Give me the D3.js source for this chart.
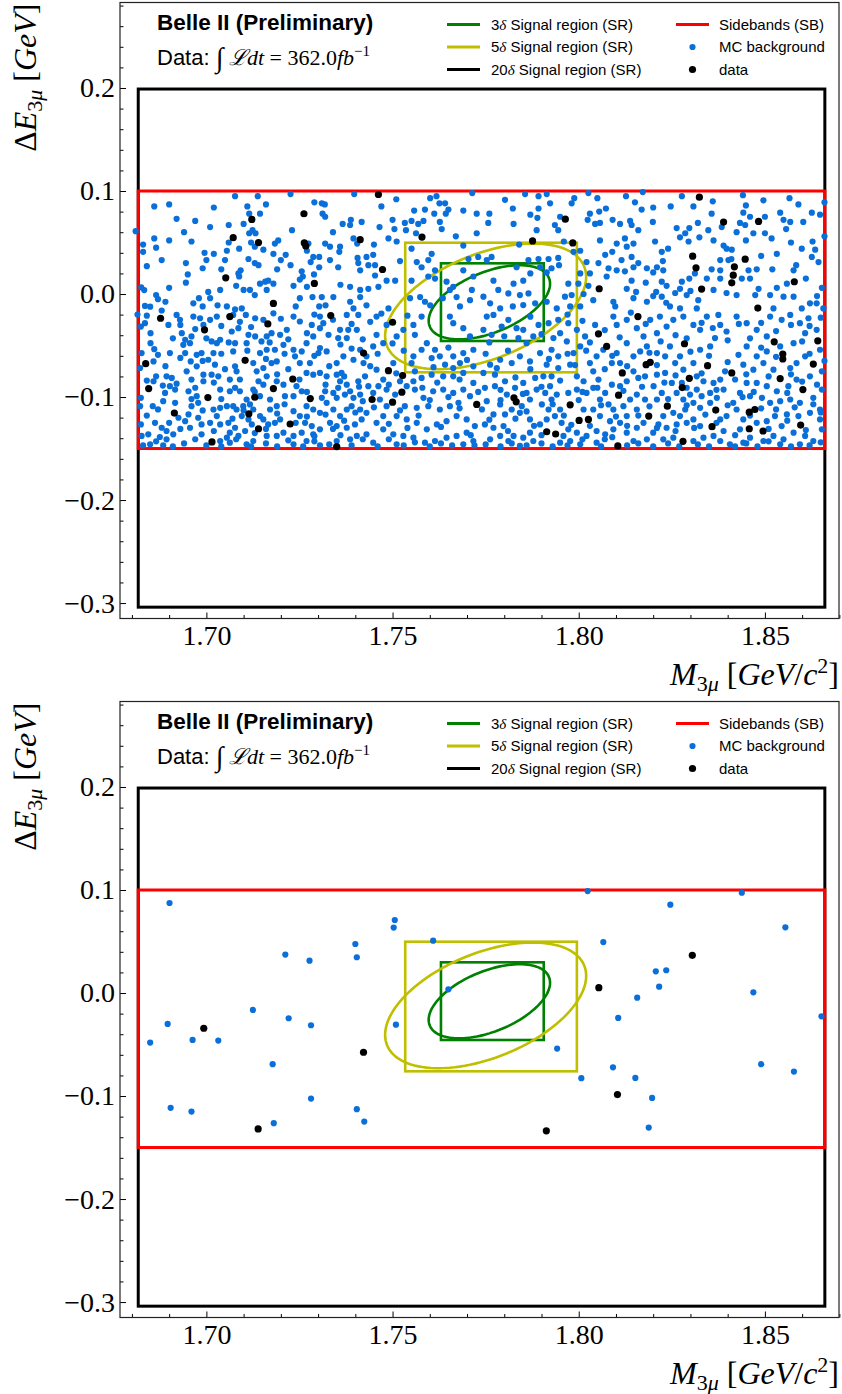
<!DOCTYPE html>
<html><head><meta charset="utf-8">
<script src="https://cdn.jsdelivr.net/npm/d3@7"></script>
<style>body{margin:0;background:#fff}svg{display:block}</style>
</head><body>
<svg id="fig" width="842" height="1394"></svg>
<script>
// ---------------- data (mass and Delta E in MeV for the point lists) ----------------
const xTicks = [1.70, 1.75, 1.80, 1.85];
const yTicks = [-0.3, -0.2, -0.1, 0.0, 0.1, 0.2];
const xLim = [1.6768, 1.8699];
const yLim = [-0.315, 0.283];
// boxes: [mMin, mMax, dEMin, dEMax] in GeV
const box3 = [1.7630, 1.7906, -0.0456, 0.0298];
const box5 = [1.7534, 1.7995, -0.0760, 0.0498];
const box20 = [1.6817, 1.8661, -0.3040, 0.1990];
const boxSB = [1.6817, 1.8661, -0.1500, 0.1000];
// ellipses: [centre m, centre dE, half-extent m, half-extent dE, correlation]
const ell3 = [1.7760, -0.0080, 0.0163, 0.0360, 0.50];
const ell5 = [1.7750, -0.0120, 0.0270, 0.0610, 0.47];
const legendLeft = ["3δ Signal region (SR)", "5δ Signal region (SR)", "20δ Signal region (SR)"];
const legendRight = ["Sidebands (SB)", "MC background", "data"];

const mcTop = [
[1681,61],[1683,48],[1683,41],[1686,54],[1686.5,45],[1686,85],[1690,87],[1692,73],[1694,60],[1696,51],[1699.5,40],[1701,65],[1702,39],[1699,25],[1700,33],[1694.5,30],[1695,19],[1694.5,11],[1690,6],[1686.5,-1],[1687,-5],[1682.5,6.5],[1683.3,3.8],[1683.5,-11.6],[1684.9,-12.3],[1689,-7.5],[1696.5,-9],[1698,-4],[1701,-4],[1700.5,2],[1703.7,4],[1703,-11],[1705.5,-12],[1707.7,-15],[1709.5,-14],[1705.5,42],[1705,33],[1706,50],[1706,67],[1707.7,95],[1711,85],[1711.5,78],[1710,68],[1711.5,59],[1712.4,62],[1713.2,59],[1712,50],[1713,46],[1711.3,34],[1713,30],[1714,28],[1715.3,43],[1714.4,78],[1713.8,95],[1708.8,44],[1709.2,23],[1708.6,20],[1708.8,17],[1710,4],[1711.7,4],[1713,-1],[1714.4,10],[1715.8,12],[1716.6,13],[1718,10],[1716.2,4],[1718.4,49],[1719.3,52],[1718,39],[1720,33],[1721.3,38],[1722.6,28],[1723.4,8],[1725.1,14],[1725.9,17],[1725.6,22],[1727,42],[1727.4,49],[1728,31],[1728.7,36],[1730.3,36],[1731.9,49],[1731,88],[1729,89],[1731.8,87],[1731.2,78],[1731.9,75],[1733.2,46],[1733.2,33],[1730.3,26],[1728.9,19],[1727,7],[1725.1,-4],[1728.5,-3],[1731,-3],[1730.3,-12],[1732,-11],[1734.1,-3],[1722.6,97],[1739.7,97],[1735.9,46],[1735.7,41],[1735.4,26],[1736.6,68],[1738.6,67],[1738.8,72],[1741.7,70],[1739.5,54],[1740.5,49],[1740.6,35],[1740.8,30],[1741.3,23],[1743.5,28],[1743,36],[1744.8,38],[1745.3,28],[1745.3,18],[1746.5,65],[1748.9,54],[1750,72],[1750.5,63],[1751.1,51],[1753.3,69],[1753.6,62],[1755.1,71],[1755.8,81],[1756.3,59],[1756.9,68],[1758.3,71],[1758.7,82],[1760.1,93],[1761.2,78],[1761.8,95],[1762.6,88],[1762.7,70],[1763.2,63],[1764.1,88],[1764.3,78],[1765,82],[1769,81],[1771.4,98],[1772.6,59],[1772.6,78],[1755.1,44],[1756.5,31],[1757.8,26],[1759.6,33],[1760.5,39],[1761.4,23],[1759.6,17],[1761.4,15],[1764.5,12],[1765.4,4],[1766.3,7],[1755.1,13],[1754.7,-4],[1757.4,-3],[1758.7,-7.5],[1760.1,-11],[1763.5,-4],[1767.2,-3],[1768.1,-12],[1770.4,34],[1771.7,17],[1771.3,4],[1770.8,-6],[1773,36],[1738.6,7],[1741.3,4],[1743.5,5],[1746.2,7],[1748.4,13],[1750.7,13],[1741.3,-3],[1738.6,-7.5],[1743,-11],[1739.5,-14],[1748.9,-14],
[1780.2,91.4],[1782.3,83],[1785.6,97],[1789.2,95],[1791.4,97],[1792.3,88],[1789.2,83],[1788.9,74],[1782.5,68],[1775.7,69],[1788.7,62],[1793.6,67],[1794.5,62],[1795,75],[1798.1,88],[1798.8,93],[1802.6,98],[1803,78],[1805.5,80],[1807.3,83],[1802.4,72],[1804.4,68],[1805.7,69],[1809.1,72],[1811.1,68],[1812.7,95],[1815.1,89],[1817.2,99],[1816.9,82],[1813.8,71],[1814.2,67],[1819.9,70],[1820,84],[1824.7,85],[1827.7,95],[1830.8,85],[1835.7,78],[1834.8,62],[1829.7,64],[1826.3,64],[1828.6,59],[1827.2,55],[1829.5,51],[1832.4,55],[1836.2,52],[1838.9,47],[1839.7,44],[1841.1,43],[1838.4,65],[1842.4,60],[1843.3,69],[1844.7,67],[1844.2,79],[1844.9,86],[1844.1,96],[1849.6,91],[1846,75],[1850,75],[1850,59],[1846.9,59],[1844.9,52],[1851.8,54],[1853.2,39],[1854.1,79],[1855,72],[1856.8,70],[1855.7,63],[1856.6,93],[1859,87],[1860.3,70],[1862.6,79],[1864.8,77],[1862.8,51],[1863.5,43],[1859.9,44],[1862.6,36],[1864.4,31],[1858.4,28],[1857.7,23],[1855.9,10],[1853.2,6],[1855,-2.6],[1857.7,-2.6],[1851.4,-1],[1865.3,6],[1859.9,-14],[1862.1,-9],[1863.9,-9],[1865.7,-14],[1852.3,-14],[1847.4,-1],[1848.3,5],[1842.4,-1],[1843.8,15],[1846,15],[1845.6,23],[1847.8,24],[1838,33],[1840.2,33],[1838,23],[1835.7,24],[1836.2,4],[1839.7,1],[1838,15],[1834.4,15],[1831.2,20],[1829.7,15],[1827.7,12],[1827.2,5],[1825.9,1],[1829,-1],[1832.1,-6],[1831.7,-14],[1823.6,8],[1822.3,12],[1820.8,2],[1822.3,-2.6],[1820,-2],[1818.3,-7.5],[1823.5,-8.5],[1824.5,-12],[1827.2,-14],[1822.7,23],[1821,26],[1820,21],[1822.3,41],[1822.6,32],[1818.3,25],[1820.5,51],[1814.7,49],[1812.4,54],[1812.9,46],[1810.2,49],[1811.5,33],[1814.2,36],[1814.7,26],[1816,30],[1812.4,22],[1810.2,23],[1808,25],[1807.1,38],[1805.7,52],[1807.5,17],[1812.9,5],[1814.2,13],[1815.4,2],[1814.7,-4],[1809.3,-7.5],[1809.8,-12],[1803.9,-6],[1801.3,0],[1802.6,8],[1799.9,10],[1797.2,10],[1798.1,-1],[1796.3,-2.6],[1797.7,-12],[1800.4,-12],[1794.1,-14],[1791.4,-7.5],[1788.3,-9],[1786.5,0.6],[1784.2,-1],[1781.1,0.6],[1782.5,10],[1785.1,13],[1787,20],[1791.4,21],[1792.7,25],[1789.6,26],[1789.2,34],[1791.9,34],[1794.5,35],[1794.7,28],[1786.5,33],[1783.3,26],[1777.1,13],[1778.4,4],[1775.3,33],[1776.6,36],[1774.4,-2.6],[1776.2,-9],[1778.9,-14],[1782.3,-12],[1785.1,-10.7],[1798.6,41],[1800.4,42],[1802.1,31],[1800.4,20],[1803,20],[1805.3,30],
[1682.4,-31.6],[1683.5,-28.3],[1682.6,-57.3],[1682.2,-71.8],[1682.4,-100.8],[1682.2,-108.9],[1682.4,-126.6],[1682.6,-137.8],[1684.4,-136.2],[1685,-47.7],[1686,-53.5],[1685.8,-65.4],[1686.5,-79.9],[1685.8,-84.7],[1685.6,-108.9],[1686.2,-125],[1688,-129.8],[1687.5,-138.8],[1689.3,-141.1],[1688.4,-146.9],[1684.9,-145.9],[1690.2,-57.3],[1689.3,-79.9],[1690.2,-89.5],[1690.7,-81.5],[1688.3,-88.9],[1688.9,-96],[1691.6,-92.8],[1688.4,-104],[1691.6,-105.6],[1692.5,-120.1],[1689.3,-133],[1691.1,-136.2],[1692,-20.3],[1692.9,-25.1],[1689.8,-30],[1693.4,-38],[1694.3,-44.4],[1695.6,-47.7],[1696,-41.2],[1693.8,-49.3],[1694.3,-57.3],[1695.8,-65.4],[1694.7,-75],[1696,-83.1],[1695.2,-94.4],[1697.4,-99.2],[1697.8,-105.6],[1696,-108.9],[1695.2,-116.9],[1694.3,-123.4],[1695.6,-129.8],[1698.7,-136.2],[1698.7,-126.6],[1697.8,-120.1],[1696.5,-21.9],[1698.3,-23.5],[1699.2,-30],[1697.4,-59],[1698.7,-57.3],[1697.4,-70.2],[1699.2,-78.3],[1699.2,-84.7],
[1701,-25.1],[1702.8,-21.9],[1701.4,-46],[1702.8,-47.7],[1703.7,-44.4],[1701.9,-57.3],[1700.5,-63.8],[1702.3,-68.6],[1703.2,-79.9],[1701.4,-78.3],[1703.7,-92.8],[1701.9,-112.1],[1703.7,-110.5],[1705.5,-108.9],[1702.8,-118.5],[1701,-125],[1703.7,-126.6],[1705.9,-125],[1707.7,-129.8],[1706.3,-134.6],[1705.5,-139.5],[1703.7,-142.7],[1706.3,-144.3],[1708.6,-137.8],[1710.4,-133],[1712.2,-126.6],[1711.3,-121.7],[1709.5,-118.5],[1708.1,-112.1],[1707.2,-108.9],[1709.9,-108.9],[1711.7,-107.2],[1710.8,-102.4],[1712.6,-112.1],[1714.4,-118.5],[1715.3,-121.7],[1717.1,-112.1],[1716.6,-126.6],[1718.4,-125],[1719.8,-121.7],[1712.6,-142.7],[1716.2,-137.8],[1718.9,-137.8],[1720.7,-134.6],[1710.8,-145.9],[1706.3,-94.4],[1707.7,-91.1],[1709,-94.4],[1706.3,-83.1],[1708.1,-75],[1707.7,-70.2],[1707.2,-55.7],[1707.7,-47.7],[1706.8,-36.4],[1708.6,-33.2],[1707.2,-20.3],[1710.6,-20.3],[1713.1,-23.5],[1715.3,-25.1],[1718,-18.7],[1711.3,-39.6],[1710.8,-47.7],[1713.1,-41.2],[1714.8,-46],[1716.2,-41.2],[1717.5,-38],[1719.8,-39.6],[1721.6,-34.8],[1720.7,-49.3],[1718.4,-54.1],[1716.2,-54.1],[1714.4,-57.3],[1712.6,-67],[1713.5,-75],[1715.3,-71.8],[1717.5,-67],[1718.9,-65.4],[1716.2,-79.9],[1714,-84.7],[1715.3,-88],[1712.6,-92.8],[1720.7,-88],[1718.9,-84.7],[1721.1,-99.2],[1717.1,-102.4],[1718.9,-108.9],[1714.4,-99.2],
[1723.4,-21.9],[1725.1,-26.7],[1728.3,-30],[1731.4,-28.3],[1730.5,-33.2],[1728.7,-41.2],[1726.9,-47.7],[1725.6,-55.7],[1723.8,-60.5],[1723.4,-54.1],[1725.1,-67],[1727.8,-67],[1730.1,-57.3],[1732.3,-55.7],[1730.5,-52.5],[1732.8,-39.6],[1735.4,-42.8],[1737.7,-42.8],[1735.9,-34.8],[1738.1,-34.8],[1740.4,-34.8],[1740.8,-20.3],[1737.7,-20.3],[1730.5,-21.9],[1726.9,-76.6],[1728.7,-78.3],[1730.5,-76.6],[1732.3,-79.9],[1735,-78.3],[1736.3,-76.6],[1735.9,-84.7],[1737.7,-88],[1735.4,-91.1],[1734.1,-96],[1731.9,-94.4],[1731,-100.8],[1732.3,-105.6],[1735,-100.8],[1737.2,-97.6],[1738.6,-94.4],[1739.5,-100.8],[1741.3,-97.6],[1739,-108.9],[1737.7,-112.1],[1735.9,-118.5],[1734.1,-112.1],[1730.5,-115.3],[1728.7,-112.1],[1726.9,-108.9],[1725.1,-118.5],[1723.4,-113.7],[1726.5,-125],[1728.3,-128.2],[1730.5,-131.4],[1733.2,-125],[1735,-128.2],[1737.7,-129.8],[1739.9,-126.6],[1741.7,-121.7],[1743,-115.3],[1741.3,-112.1],[1740.4,-137.8],[1743,-136.2],[1738.6,-141.1],[1735,-142.7],[1730.5,-146.9],[1726.9,-142.7],[1723.4,-137.8],[1723.4,-145.9],[1725.6,-134.6],[1728.7,-136.2],[1725.6,-94.4],[1723.4,-99.2],[1724.2,-89.5],[1742.6,-79.9],[1743.5,-89.5],[1740.8,-84.7],[1742.2,-67],[1741.3,-54.1],[1743,-60.5],[1739.5,-63.8],[1736.8,-60.5],[1735,-67],
[1745.7,-21.9],[1748.4,-30],[1745.7,-39.6],[1744.8,-50.9],[1747.5,-47.7],[1751.1,-41.2],[1752.9,-34.8],[1755.6,-30],[1757.8,-21.9],[1756,-39.6],[1757.8,-54.1],[1759.2,-47.7],[1761.4,-54.1],[1760.5,-62.2],[1762.7,-60.5],[1755.6,-60.5],[1755.1,-67],[1765.4,-21.9],[1766.3,-28.3],[1769,-33.2],[1770.8,-41.2],[1771.7,-54.1],[1769,-57.3],[1766.3,-60.5],[1764.1,-68.6],[1766.3,-71.8],[1768.1,-67],[1771.7,-70.2],[1769,-76.6],[1766.3,-79.9],[1763.6,-79.9],[1760.5,-78.3],[1757.8,-81.5],[1755.6,-84.7],[1753.8,-89.5],[1756,-92.8],[1758.3,-100.8],[1760.9,-94.4],[1763.6,-92.8],[1766.3,-96],[1769,-92.8],[1771.7,-86.3],[1770.8,-99.2],[1767.7,-105.6],[1765.4,-108.9],[1762.7,-112.1],[1759.6,-108.9],[1756.5,-110.5],[1753.3,-108.9],[1751.1,-118.5],[1753.8,-121.7],[1756.5,-125],[1759.2,-131.4],[1761.9,-126.6],[1764.5,-123.4],[1767.2,-118.5],[1769.9,-121.7],[1772.1,-128.2],[1769.9,-134.6],[1767.2,-137.8],[1764.5,-139.5],[1761.4,-142.7],[1758.7,-144.3],[1755.6,-139.5],[1752.9,-137.8],[1750.2,-136.2],[1747.5,-131.4],[1745.7,-125],[1747.5,-118.5],[1748.4,-108.9],[1746.6,-102.4],[1744.8,-96],[1746.2,-89.5],[1748.4,-92.8],[1750.7,-97.6],[1752,-84.7],[1747.5,-83.1],[1745.7,-73.4],[1750.2,-67],[1769,-145.9],[1771.7,-142.7],[1751.1,-145.9],[1744.8,-144.3],
[1775.3,-21.9],[1777.1,-20.3],[1774.4,-34.8],[1776.6,-39.6],[1779.3,-31.6],[1781.1,-25.1],[1783.3,-33.2],[1785.1,-34.8],[1783.8,-42.8],[1786,-47.7],[1787.8,-41.2],[1789.2,-30],[1791.9,-28.3],[1794.5,-25.1],[1793.2,-42.8],[1795,-38],[1792.7,-54.1],[1794.5,-60.5],[1789.6,-57.3],[1786.9,-65.4],[1784.2,-60.5],[1782,-67],[1778.9,-63.8],[1776.2,-68.6],[1774.4,-76.6],[1777.5,-78.3],[1780.2,-84.7],[1777.5,-89.5],[1774.8,-91.1],[1775.3,-104],[1777.1,-116.9],[1774.8,-126.6],[1777.1,-129.8],[1779.8,-128.2],[1778.9,-137.8],[1776.2,-141.1],[1781.1,-142.7],[1782.5,-137.8],[1785.1,-139.5],[1786.9,-134.6],[1787.8,-142.7],[1784.2,-147.5],[1795,-144.3],[1795.9,-137.8],[1789.6,-126.6],[1786.9,-121.7],[1784.2,-115.3],[1782,-112.1],[1784.7,-108.9],[1786.9,-102.4],[1786,-96],[1788.7,-92.8],[1791,-96],[1788.3,-81.5],[1790.5,-79.9],[1792.7,-79.9],[1792.3,-89.5],[1794.1,-97.6],[1792.7,-102.4],[1790.1,-107.2],[1791.9,-112.1],[1795,-112.1],[1793.6,-118.5],[1791.4,-121.7],[1795.4,-125],[1785.1,-86.3],[1782.9,-91.1],[1780.7,-97.6],[1778.9,-107.2],[1780.2,-116.9],[1794.5,-71.8],[1791.4,-68.6],
[1797.2,-28.3],[1799.5,-34.8],[1801.7,-41.2],[1800.4,-50.9],[1798.6,-57.3],[1796.8,-46],[1797.7,-68.6],[1799.5,-79.9],[1801.3,-84.7],[1799.5,-92.8],[1797.2,-96],[1802.1,-96],[1803.9,-91.1],[1805.3,-83.1],[1803.9,-75],[1803,-67],[1804.8,-60.5],[1806.6,-54.1],[1804.4,-30],[1809.3,-21.9],[1810.2,-30],[1812.9,-25.1],[1815.6,-33.2],[1817.4,-41.2],[1812.9,-47.7],[1810.2,-57.3],[1808.9,-67],[1811.1,-67],[1814.7,-60.5],[1816.5,-55.7],[1818.3,-50.9],[1814.7,-75],[1816,-81.5],[1817.8,-79.9],[1812.9,-84.7],[1811.1,-89.5],[1808.9,-88],[1807.1,-96],[1805.7,-102.4],[1808,-107.2],[1809.3,-112.1],[1812,-108.9],[1813.8,-102.4],[1815.6,-97.6],[1817.8,-102.4],[1815.6,-112.1],[1812.9,-118.5],[1811.1,-125],[1808.4,-123.4],[1805.7,-118.5],[1803.9,-112.1],[1801.3,-112.1],[1797.2,-131.4],[1799.5,-134.6],[1802.1,-137.8],[1804.8,-133],[1807.1,-136.2],[1809.3,-131.4],[1812.9,-134.6],[1815.6,-129.8],[1817.4,-125],[1814.7,-142.7],[1818.3,-141.1],[1804.8,-144.3],[1800.4,-145.9],[1797.7,-142.7],
[1819.2,-25.1],[1821.8,-21.9],[1823.6,-31.6],[1821,-38],[1825.4,-25.1],[1828.1,-21.9],[1830.8,-30],[1832.6,-34.8],[1834.4,-21.9],[1837.5,-20.3],[1838,-30],[1839.7,-36.4],[1836.6,-42.8],[1835.3,-50.9],[1832.6,-54.1],[1824.5,-50.9],[1823.2,-60.5],[1821,-57.3],[1825.9,-67],[1823.2,-76.6],[1821,-78.3],[1820.1,-89.5],[1822.3,-96],[1821,-102.4],[1826.3,-96],[1828.1,-102.4],[1829.9,-97.6],[1831.7,-92.8],[1833,-99.2],[1835.3,-96],[1837.1,-100.8],[1838.9,-92.8],[1835.3,-105.6],[1832.6,-110.5],[1830.8,-105.6],[1828.6,-112.1],[1827.2,-118.5],[1825.4,-115.3],[1822.7,-118.5],[1821.4,-126.6],[1823.6,-129.8],[1826.3,-126.6],[1829,-125],[1830.8,-121.7],[1832.6,-128.2],[1838,-121.7],[1839.7,-118.5],[1838.9,-133],[1836.2,-137.8],[1833.5,-139.5],[1830.8,-142.7],[1825.4,-139.5],[1822.7,-141.1],[1820,-134.6],[1838,-142.7],[1840.6,-145.9],[1831.7,-79.9],[1833.5,-84.7],[1836.2,-86.3],[1838,-83.1],[1839.3,-75],[1828.1,-73.4],[1830.8,-67],[1827.2,-60.5],[1825,-86.3],[1827.7,-86.3],
[1842.4,-21.9],[1845.1,-28.3],[1847.8,-34.8],[1850.5,-41.2],[1851.4,-21.9],[1854.5,-25.1],[1856.8,-20.3],[1859.4,-28.3],[1861.7,-23.5],[1863.9,-34.8],[1860.8,-38],[1857.7,-47.7],[1854.1,-50.9],[1850.5,-55.7],[1847.8,-60.5],[1845.1,-50.9],[1842.9,-59],[1844.2,-68.6],[1846.9,-73.4],[1849.6,-67],[1852.3,-73.4],[1856.8,-71.8],[1858.5,-67],[1860.8,-60.5],[1864.8,-54.1],[1865.3,-75],[1862.1,-79.9],[1858.5,-83.1],[1856.3,-89.5],[1853.2,-94.4],[1850.5,-89.5],[1847.8,-86.3],[1845.1,-86.3],[1843.3,-96],[1846,-99.2],[1849.2,-100.8],[1851.4,-105.6],[1854.1,-104],[1856.8,-102.4],[1859.4,-105.6],[1863,-100.8],[1865.3,-92.8],[1864.8,-112.1],[1862.1,-115.3],[1859,-118.5],[1855.9,-116.9],[1852.7,-118.5],[1850.5,-123.4],[1847.8,-125],[1844.2,-121.7],[1842.4,-112.1],[1841.5,-105.6],[1843.3,-131.4],[1846,-139.5],[1849.6,-142.7],[1852.3,-137.8],[1855,-141.1],[1857.7,-134.6],[1860.8,-137.8],[1863,-142.7],[1865.3,-131.4],[1859.4,-145.9],[1854.1,-145.9],[1864.8,-121.7],[1854.5,-128.2],[1844.2,-144.3],
[1683,-147],[1686.5,-143],[1691,-148],[1694,-145],[1697,-141],[1700,-147],[1704,-148],[1708,-141],[1712,-148],[1716,-145],[1719,-148],[1722,-142],[1726,-148],[1729,-143],[1733,-146],[1736,-137],[1739,-147],[1742,-141],[1746,-148],[1749,-141],[1753,-147],[1756,-144],[1760,-148],[1763,-145],[1766,-147],[1772,-147],[1775,-146],[1779,-148],[1782,-145],[1786,-147],[1790,-145],[1793,-148],[1797,-147],[1801,-141],[1806,-148],[1809,-139],[1813,-147],[1816,-145],[1820,-148],[1824,-145],[1827,-148],[1832,-146],[1835,-148],[1842,-148],[1845,-145],[1848,-148],[1851,-143],[1857,-148],[1862,-147],[1865,-144],
[1684,-118],[1687,-112],[1690,-125],[1693,-131],[1696,-102],[1699,-113],[1702,-133],[1704,-102],[1707,-121],[1710,-113],[1713,-135],[1716,-131],[1719,-116],[1721,-107],[1724,-125],[1727,-119],[1729,-138],[1732,-117],[1734,-131],[1737,-123],[1740,-115],[1742,-104],[1745,-110],[1749,-126],[1752,-113],[1754,-130],[1757,-118],[1760,-103],[1763,-129],[1765,-100],[1768,-111],[1771,-137],[1774,-112],[1776,-122],[1779,-103],[1781,-133],[1783,-121],[1786,-114],[1788,-128],[1790,-137],[1793,-107],[1796,-118],[1798,-127],[1800,-103],[1803,-128],[1806,-108],[1807,-141],[1810,-119],[1813,-128],[1816,-118],[1819,-109],[1821,-130],[1824,-102],[1826,-133],[1829,-108],[1831,-130],[1834,-117],[1837,-125],[1840,-108],[1842,-137],[1844,-100],[1846,-118],[1849,-111],[1851,-131],[1853,-112],[1856,-123],[1858,-110],[1861,-132],[1863,-107],[1865,-115],
[1684,-84],[1687,-59],[1689,-70],[1692,-87],[1693,-62],[1697,-91],[1699,-65],[1702,-86],[1704,-58],[1705,-73],[1709,-83],[1711,-55],[1713,-95],[1716,-63],[1719,-78],[1721,-58],[1722,-73],[1725,-83],[1727,-95],[1729,-60],[1732,-88],[1733,-70],[1737,-80],[1739,-53],[1741,-90],[1744,-70],[1746,-58],[1749,-88],[1751,-77],[1753,-55],[1756,-75],[1758,-91],[1761,-71],[1762,-86],[1765,-52],[1768,-83],[1770,-64],[1773,-95],[1775,-58],[1778,-72],[1779,-93],[1781,-55],[1783,-81],[1785,-97],[1787,-73],[1790,-90],[1792,-63],[1795,-84],[1797,-58],[1799,-69],[1801,-95],[1802,-55],[1805,-91],[1807,-73],[1809,-60],[1812,-94],[1813,-70],[1817,-90],[1819,-57],[1821,-69],[1823,-86],[1826,-79],[1829,-91],[1830,-56],[1833,-77],[1835,-60],[1837,-93],[1840,-66],[1842,-83],[1845,-78],[1847,-95],[1849,-52],[1851,-80],[1853,-61],[1856,-96],[1857,-78],[1860,-85],[1862,-58],[1864,-88],[1866,-65],
[1684,-21],[1685,-38],[1688,-16],[1691,-43],[1693,-30],[1697,-34],[1700,-43],[1704,-31],[1706,-47],[1709,-27],[1712,-32],[1717,-47],[1720,-24],[1722,-44],[1727,-38],[1729,-20],[1734,-25],[1736,-49],[1739,-29],[1742,-44],[1744,-27],[1747,-19],[1750,-48],[1754,-21],[1776,-47],[1780,-41],[1787,-22],[1790,-39],[1797,-20],[1801,-26],[1803,-47],[1807,-35],[1811,-42],[1814,-18],[1818,-29],[1822,-46],[1826,-40],[1829,-43],[1833,-28],[1836,-33],[1840,-45],[1843,-29],[1846,-43],[1849,-28],[1853,-36],[1857,-30],[1860,-46],[1862,-31],[1865,-23],[1864,-2],[1681.5,-20],
[1684,27],[1688,33],[1690,52],[1697,71],[1702,84],[1704,24],[1708,8],[1716,87],[1719,24],[1723,62],[1724,-12],[1734,60],[1736,9],[1745,48],[1747,85],[1752,32],[1751,92],[1767,56],[1769,23],[1784,48],[1787,77],[1796,51],[1805,93],[1809,41],[1816,62],[1818,11],[1824,44],[1830,3],[1832,69],[1836,90],[1841,34],[1849,37],[1852,24],[1857,50],[1861,15],[1866,56],[1866,89],[1699,-12],[1776,78],[1769,47]
];
const dataTop = [
[1746.2,96.6],[1712.2,72.4],[1726.2,77.9],[1707.2,54.7],[1714.0,49.9],[1726.3,49.6],[1726.7,46.7],[1741.3,52.8],[1757.9,55.3],[1747.3,23.8],[1705.2,15.7],[1729.0,10.3],[1718.0,-9.1],
[1832.4,94.0],[1796.4,72.7],[1838.9,69.8],[1848.3,70.5],[1787.6,51.5],[1798.4,49.6],[1830.6,36.7],[1844.7,33.8],[1831.5,25.4],[1841.8,26.4],[1841.5,18.3],[1841.1,10.9],[1857.9,11.9],[1833.0,4.8],[1805.5,5.1],[1848.1,-13.6],
[1687.7,-23.5],[1706.3,-21.9],[1733.4,-20.9],[1699.5,-34.8],[1716.5,-29.0],[1750.0,-27.4],[1683.7,-67.6],[1710.4,-64.4],[1742.2,-57.3],[1748.9,-74.4],[1752.7,-79.2],[1723.2,-82.5],[1684.5,-91.8],[1718.0,-91.8],[1700.4,-100.5],[1713.0,-100.2],[1727.9,-101.5],[1744.5,-102.4],[1752.5,-95.3],[1750.0,-105.0],[1691.4,-115.6],[1711.4,-116.3],[1722.5,-126.2],[1714.0,-130.8],[1701.5,-143.6],[1735.0,-148.1],[1772.6,-107.2],
[1815.9,-21.9],[1805.3,-38.6],[1807.5,-50.9],[1828.4,-48.3],[1852.5,-46.4],[1864.2,-45.4],[1818.1,-68.6],[1819.2,-66.3],[1834.6,-69.6],[1841.1,-76.6],[1811.7,-76.6],[1854.8,-58.3],[1854.8,-63.1],[1863.0,-68.0],[1829.7,-81.8],[1854.1,-82.1],[1827.8,-90.8],[1860.2,-92.8],[1810.7,-98.2],[1782.6,-100.8],[1783.2,-104.7],[1797.7,-107.6],[1823.8,-108.9],[1836.8,-112.7],[1845.8,-114.7],[1847.3,-112.1],[1800.1,-122.7],[1802.6,-121.7],[1818.8,-118.5],[1835.8,-128.8],[1845.8,-130.8],[1849.5,-133.0],[1859.6,-127.2],[1791.4,-133.7],[1793.8,-135.9],[1828.0,-143.0],[1810.5,-147.5]
];
const mcBottom = [
[1690.1,87.4],[1750.6,70.9],[1750.3,63.5],[1802.4,99.0],[1843.8,97.4],[1824.6,85.8],[1855.5,63.8],[1740.0,47.6],[1760.9,50.8],[1806.6,49.5],[1721.2,37.3],[1727.7,31.4],[1740.4,34.7],[1820.7,21.1],[1823.5,22.1],[1821.6,6.2],[1765.0,3.6],[1815.7,-4.5],[1846.9,0.7],[1712.5,-16.4],[1722.1,-24.5],[1728.1,-31.3],[1689.6,-30.0],[1750.9,-30.7],[1810.6,-24.2],[1865.2,-22.6],[1684.9,-48.1],[1696.3,-45.5],[1703.2,-46.2],[1794.2,-53.9],[1717.8,-69.1],[1849.0,-69.1],[1857.8,-76.3],[1800.7,-82.7],[1809.2,-72.1],[1815.2,-82.4],[1819.7,-101.8],[1728.1,-102.5],[1690.4,-111.5],[1696.0,-115.1],[1740.4,-112.8],[1742.4,-124.8],[1718.1,-126.4],[1818.8,-130.6]
];
const dataBottom = [
[1830.5,36.6],[1805.4,5.2],[1699.3,-34.2],[1742.2,-57.5],[1810.4,-98.6],[1713.9,-131.9],[1791.3,-133.8]
];

// ---------------- drawing ----------------
const C = {green:"#008000", yellow:"#bfbf00", red:"#ff0000", black:"#000000", blue:"#0a6fd8"};
const svg = d3.select("#fig");
const SERIF = "'Liberation Serif', 'DejaVu Serif', serif";
const SANS = "'Liberation Sans', Arial, sans-serif";
const panels = [
  {top: 2.5, bottom: 618.5, mc: mcTop, data: dataTop},
  {top: 701.5, bottom: 1317.5, mc: mcBottom, data: dataBottom}
];
const L = 120, R = 839;

function ellipsePath(x, y, e) {
  const [cx, cy, sx, sy, rho] = e;
  const pts = d3.range(0, 361, 3).map(a => {
    const t = a * Math.PI / 180;
    return [x(cx + sx * Math.cos(t)), y(cy + sy * (rho * Math.cos(t) + Math.sqrt(1 - rho * rho) * Math.sin(t)))];
  });
  return d3.line()(pts) + "Z";
}

panels.forEach(p => {
  const g = svg.append("g");
  const x = d3.scaleLinear().domain(xLim).range([L, R]);
  const y = d3.scaleLinear().domain(yLim).range([p.bottom, p.top]);

  const rect = (b, col, w) => g.append("rect")
    .attr("x", x(b[0])).attr("y", y(b[3]))
    .attr("width", x(b[1]) - x(b[0])).attr("height", y(b[2]) - y(b[3]))
    .attr("fill", "none").attr("stroke", col).attr("stroke-width", w);
  rect(box3, C.green, 2.6);
  g.append("path").attr("d", ellipsePath(x, y, ell3)).attr("fill", "none").attr("stroke", C.green).attr("stroke-width", 2.6);
  rect(box5, C.yellow, 2.6);
  g.append("path").attr("d", ellipsePath(x, y, ell5)).attr("fill", "none").attr("stroke", C.yellow).attr("stroke-width", 2.6);
  rect(box20, C.black, 3);
  rect(boxSB, C.red, 3);

  g.append("g").selectAll("circle").data(p.mc).join("circle")
    .attr("cx", d => x(d[0] / 1000)).attr("cy", d => y(d[1] / 1000)).attr("r", 3.1).attr("fill", C.blue);
  g.append("g").selectAll("circle").data(p.data).join("circle")
    .attr("cx", d => x(d[0] / 1000)).attr("cy", d => y(d[1] / 1000)).attr("r", 3.6).attr("fill", C.black);

  // axes, ticks pointing inward
  const ax = g.append("g").attr("transform", `translate(0,${p.bottom})`)
    .call(d3.axisBottom(x).tickValues(xTicks).tickFormat(d3.format(".2f")).tickSize(-6).tickPadding(7));
  const axm = g.append("g").attr("transform", `translate(0,${p.bottom})`)
    .call(d3.axisBottom(x).tickValues(d3.range(1.68, 1.871, 0.01).filter(v => !xTicks.some(t => Math.abs(t - v) < 1e-6))).tickFormat("").tickSize(-3.5));
  const ay = g.append("g").attr("transform", `translate(${L},0)`)
    .call(d3.axisLeft(y).tickValues(yTicks).tickFormat(d3.format(".1f")).tickSize(-6).tickPadding(5));
  const aym = g.append("g").attr("transform", `translate(${L},0)`)
    .call(d3.axisLeft(y).tickValues(d3.range(-0.30, 0.281, 0.02).filter(v => !yTicks.some(t => Math.abs(t - v) < 1e-6))).tickFormat("").tickSize(-3.5));
  [ax, axm, ay, aym].forEach(a => {
    a.select(".domain").remove();
    a.selectAll("line").attr("stroke", "#000").attr("stroke-width", 1);
    a.selectAll("text").attr("font-family", SERIF).attr("font-size", 28).attr("fill", "#000");
  });

  g.append("rect").attr("x", L).attr("y", p.top).attr("width", R - L).attr("height", p.bottom - p.top)
    .attr("fill", "none").attr("stroke", "#222").attr("stroke-width", 1.2);

  // y label
  const yl = g.append("text").attr("transform", `translate(36,${p.top + 1}) rotate(-90)`)
    .attr("text-anchor", "end").attr("font-family", SERIF).attr("font-size", 32);
  yl.append("tspan").text("Δ");
  yl.append("tspan").attr("font-style", "italic").text("E");
  yl.append("tspan").attr("font-size", 22).attr("dy", 6).text("3");
  yl.append("tspan").attr("font-size", 22).attr("font-style", "italic").text("μ");
  yl.append("tspan").attr("dy", -6).text(" [");
  yl.append("tspan").attr("font-style", "italic").text("GeV");
  yl.append("tspan").text("]");

  // x label
  const xl = g.append("text").attr("x", R).attr("y", p.bottom + 66)
    .attr("text-anchor", "end").attr("font-family", SERIF).attr("font-size", 32);
  xl.append("tspan").attr("font-style", "italic").text("M");
  xl.append("tspan").attr("font-size", 22).attr("dy", 6).text("3");
  xl.append("tspan").attr("font-size", 22).attr("font-style", "italic").text("μ");
  xl.append("tspan").attr("dy", -6).text(" [");
  xl.append("tspan").attr("font-style", "italic").text("GeV");
  xl.append("tspan").text("/");
  xl.append("tspan").attr("font-style", "italic").text("c");
  xl.append("tspan").attr("font-size", 22).attr("dy", -12).text("2");
  xl.append("tspan").attr("dy", 12).text("]");

  // title block
  const t0 = p.top;
  g.append("text").attr("x", 157).attr("y", t0 + 27).attr("font-family", SANS).attr("font-weight", "bold")
    .attr("font-size", 22.5).text("Belle II (Preliminary)");
  const dt = g.append("text").attr("x", 157).attr("y", t0 + 62).attr("font-size", 22);
  dt.append("tspan").attr("font-family", SANS).text("Data: ");
  dt.append("tspan").attr("font-family", SERIF).attr("font-size", 28).attr("dy", 2).text("∫");
  dt.append("tspan").attr("font-family", SERIF).attr("font-style", "italic").attr("dy", -2).text(" ℒdt");
  dt.append("tspan").attr("font-family", SERIF).text(" = 362.0");
  dt.append("tspan").attr("font-family", SERIF).attr("font-style", "italic").text("fb");
  dt.append("tspan").attr("font-family", SERIF).attr("font-size", 15).attr("dy", -9).text("−1");

  // legend
  const rows = [t0 + 22, t0 + 44.5, t0 + 67];
  const leftCols = [C.green, C.yellow, C.black];
  legendLeft.forEach((lab, i) => {
    g.append("line").attr("x1", 447).attr("x2", 480).attr("y1", rows[i]).attr("y2", rows[i])
      .attr("stroke", leftCols[i]).attr("stroke-width", 3);
    const m = lab.match(/^(\d+)δ(.*)$/);
    const tx = g.append("text").attr("x", 491).attr("y", rows[i] + 5.3).attr("font-family", SANS).attr("font-size", 15);
    tx.append("tspan").text(m[1]);
    tx.append("tspan").attr("font-family", SERIF).attr("font-style", "italic").text("δ");
    tx.append("tspan").text(m[2]);
  });
  g.append("line").attr("x1", 676).attr("x2", 709).attr("y1", rows[0]).attr("y2", rows[0])
    .attr("stroke", C.red).attr("stroke-width", 3);
  g.append("circle").attr("cx", 692.5).attr("cy", rows[1]).attr("r", 3.1).attr("fill", C.blue);
  g.append("circle").attr("cx", 692.5).attr("cy", rows[2]).attr("r", 3.6).attr("fill", C.black);
  legendRight.forEach((lab, i) => {
    g.append("text").attr("x", 719).attr("y", rows[i] + 5.3).attr("font-family", SANS).attr("font-size", 15).text(lab);
  });
});
</script>
</body></html>
